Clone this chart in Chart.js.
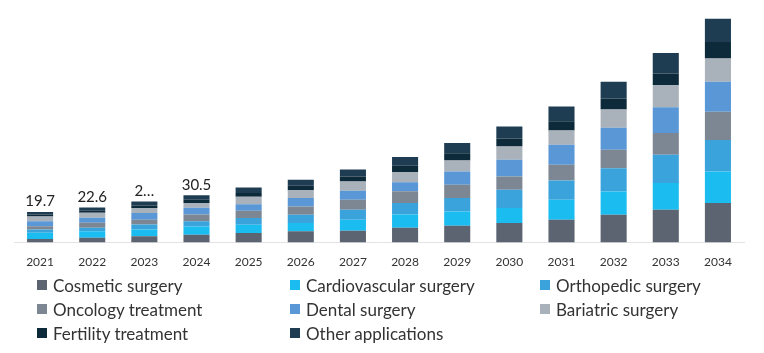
<!DOCTYPE html>
<html>
<head>
<meta charset="utf-8">
<script src="https://cdn.jsdelivr.net/npm/chart.js@4.4.1/dist/chart.umd.min.js"></script>
<style>
  html, body { margin: 0; padding: 0; background: #fff; }
  #wrap { position: relative; width: 764px; height: 353px; }
  #box { position: absolute; left: 0; top: 0; width: 764px; height: 281px; }
  #legend {
    position: absolute; left: 37px; top: 273px;
    display: grid; grid-template-columns: 253px 250px 220px;
    grid-auto-rows: 24px;
    font-family: Lato, "Noto Sans", sans-serif; font-size: 17px; color: #333;
  }
  #legend .item { display: flex; align-items: center; white-space: nowrap; }
  #legend .sw { width: 10px; height: 10px; margin-right: 6px; flex: none; }
</style>
</head>
<body>
<div id="wrap">
  <div id="box"><canvas id="hero-chart"></canvas></div>
  <div id="legend"></div>
</div>
<script>
const years = ['2021', '2022', '2023', '2024', '2025', '2026', '2027', '2028', '2029', '2030', '2031', '2032', '2033', '2034'];

const cosmetic = [2.4, 3.1, 4.1, 5.1, 6.2, 7.3, 7.7, 9.5, 10.9, 12.7, 14.8, 18.0, 21.2, 25.5];
const cardiovascular = [3.9, 4.2, 4.3, 5.3, 5.3, 5.4, 7.1, 8.6, 9.2, 9.6, 12.9, 15.0, 17.2, 20.3];
const orthopedic = [2.1, 2.3, 3.2, 3.4, 4.3, 5.3, 6.4, 7.5, 8.6, 11.8, 12.4, 15.0, 18.2, 20.4];
const oncology = [2.1, 3.2, 3.2, 4.3, 4.7, 5.3, 6.4, 7.5, 8.6, 8.6, 10.1, 11.8, 14.0, 18.2];
const dental = [3.2, 3.2, 4.3, 4.3, 4.3, 5.4, 5.8, 5.8, 8.6, 10.7, 12.9, 14.3, 16.7, 19.3];
const bariatric = [3.2, 3.2, 3.2, 3.2, 4.7, 5.3, 6.0, 6.7, 7.1, 8.6, 9.2, 11.8, 14.3, 15.0];
const fertility = [1.2, 1.4, 1.7, 2.0, 2.5, 2.7, 3.2, 4.0, 4.6, 5.2, 6.0, 7.0, 7.5, 10.7];
const other = [1.6, 2.0, 2.5, 2.9, 3.5, 3.9, 4.5, 5.6, 6.6, 7.7, 9.5, 10.8, 13.2, 15.0];

// totals printed above the first bars (third one is cut off in the source)
const totalLabels = ['19.7', '22.6', '2…', '30.5'];

const seriesNames = ['Cosmetic surgery', 'Cardiovascular surgery', 'Orthopedic surgery', 'Oncology treatment',
  'Dental surgery', 'Bariatric surgery', 'Fertility treatment', 'Other applications'];
const seriesData = [cosmetic, cardiovascular, orthopedic, oncology, dental, bariatric, fertility, other];
const colors = ['#5b6470', '#1bbdf0', '#3ba3dc', '#7d8794', '#5a97d6', '#a9b1ba', '#0c2a39', '#1e3d53'];

const totalsPlugin = {
  id: 'totals',
  afterDatasetsDraw(chart) {
    const ctx = chart.ctx;
    const last = chart.getDatasetMeta(chart.data.datasets.length - 1);
    ctx.save();
    ctx.font = '15px Lato, "Noto Sans", sans-serif';
    ctx.fillStyle = '#222';
    ctx.textAlign = 'center';
    ctx.textBaseline = 'bottom';
    totalLabels.forEach((t, i) => {
      const bar = last.data[i];
      ctx.fillText(t, bar.x, bar.y - 3);
    });
    ctx.restore();
  }
};

Chart.register(totalsPlugin);

const chart = new Chart(document.getElementById('hero-chart').getContext('2d'), {
  type: 'bar',
  data: {
    labels: years,
    datasets: seriesData.map((d, i) => ({
      label: seriesNames[i],
      data: d,
      backgroundColor: colors[i],
      borderWidth: 0,
      barPercentage: 0.5,
      categoryPercentage: 1
    }))
  },
  options: {
    responsive: true, maintainAspectRatio: false,
    animation: false,
    layout: { padding: { left: 14, right: 20, top: 10, bottom: 0 } },
    plugins: {
      legend: { display: false },
      tooltip: { enabled: false }
    },
    scales: {
      x: {
        stacked: true,
        grid: { display: false, drawTicks: false },
        border: { display: true, color: '#e3e3e3', width: 1 },
        ticks: {
          padding: 12,
          color: '#333',
          font: { family: 'Lato, "Noto Sans", sans-serif', size: 12 }
        }
      },
      y: {
        stacked: true,
        display: false,
        min: 0,
        max: 150
      }
    }
  }
});

const legend = document.getElementById('legend');
chart.data.datasets.forEach((ds) => {
  const item = document.createElement('div');
  item.className = 'item';
  const sw = document.createElement('span');
  sw.className = 'sw';
  sw.style.background = ds.backgroundColor;
  item.appendChild(sw);
  item.appendChild(document.createTextNode(ds.label));
  legend.appendChild(item);
});
</script>
</body>
</html>
